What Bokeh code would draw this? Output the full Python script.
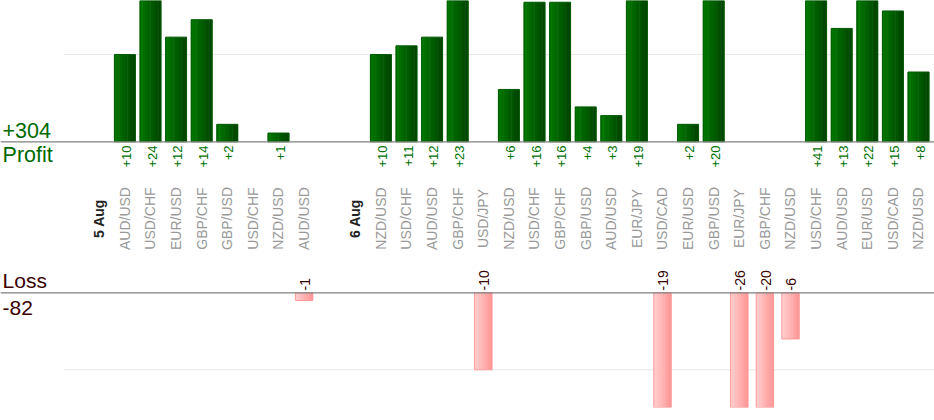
import math
from bokeh.plotting import figure
from bokeh.models import Range1d, Span, ColumnDataSource
from bokeh.transform import dodge
from bokeh.core.properties import value
from bokeh.embed import file_html
from bokeh.resources import INLINE

# ---------------- data ----------------
day_labels = ["5 Aug", "6 Aug"]

day1_pairs = ["AUD/USD", "USD/CHF", "EUR/USD", "GBP/CHF", "GBP/USD", "USD/CHF",
              "NZD/USD", "AUD/USD"]
day1_pips = [10, 24, 12, 14, 2, 0, 1, -1]

day2_pairs = ["NZD/USD", "USD/CHF", "AUD/USD", "GBP/CHF", "USD/JPY", "NZD/USD",
              "USD/CHF", "GBP/CHF", "GBP/USD", "AUD/USD", "EUR/JPY", "USD/CAD",
              "EUR/USD", "GBP/USD", "EUR/JPY", "GBP/CHF", "NZD/USD", "USD/CHF",
              "AUD/USD", "EUR/USD", "USD/CAD", "NZD/USD"]
day2_pips = [10, 11, 12, 23, -10, 6, 16, 16, 4, 3, 19, -19, 2, 20, -26, -20,
             -6, 41, 13, 22, 15, 8]

profit_grid = [10]
loss_grid = [-10]

# ---------------- slot layout ----------------
date_x, date_txt = [], []
pair_x, pair_txt, pair_pip = [], [], []
idx = 0
for day, pairs, pips in zip(day_labels, [day1_pairs, day2_pairs], [day1_pips, day2_pips]):
    date_x.append(idx)
    date_txt.append(day)
    idx += 1
    for pr, pp in zip(pairs, pips):
        pair_x.append(idx)
        pair_txt.append(pr)
        pair_pip.append(pp)
        idx += 1
    idx += 1  # blank slot between days

pos_x = [x for x, v in zip(pair_x, pair_pip) if v > 0]
pos_v = [v for v in pair_pip if v > 0]
neg_x = [x for x, v in zip(pair_x, pair_pip) if v < 0]
neg_v = [v for v in pair_pip if v < 0]

total_profit = sum(pos_v)
total_loss = sum(neg_v)

# ---------------- figure ----------------
X0, X1 = -3.859, 32.625
p = figure(width=934, height=420,
           x_range=Range1d(X0, X1), y_range=Range1d(-30.47, 16.2),
           output_backend="svg", toolbar_location=None,
           x_axis_location=None, y_axis_location=None,
           min_border_left=0, min_border_right=0, min_border_top=0,
           min_border_bottom=13, outline_line_color=None)
p.extra_y_ranges = {"loss": Range1d(-14.9, 37.96)}
p.grid.visible = False

FONT = value("Liberation Sans")

# grid lines
grid_x0 = -1.4
p.segment(x0=[grid_x0] * len(profit_grid), x1=[X1] * len(profit_grid),
          y0=profit_grid, y1=profit_grid, line_color="#e8e8e8", line_width=1)
p.segment(x0=[grid_x0] * len(loss_grid), x1=[X1] * len(loss_grid),
          y0=loss_grid, y1=loss_grid, line_color="#e8e8e8", line_width=1,
          y_range_name="loss")

psrc = ColumnDataSource(dict(x=pos_x, top=pos_v))
nsrc = ColumnDataSource(dict(x=neg_x, bottom=neg_v))

def lerp(c0, c1, t):
    return "#%02x%02x%02x" % tuple(int(round(a + (b - a) * t)) for a, b in zip(c0, c1))

# profit bars (horizontal gradient approximated with strips)
N = 8
PW = 0.82
for k in range(N):
    off = -PW / 2 + (k + 0.5) * PW / N
    col = lerp((0, 118, 0), (0, 70, 0), k / (N - 1))
    p.vbar(x=dodge("x", off, range=p.x_range), width=PW / N * 1.2, top="top",
           bottom=0, source=psrc, fill_color=col, line_color=None)
p.vbar(x="x", width=PW, top="top", bottom=0, source=psrc, fill_color=None,
       line_color="#005a00", line_width=1)

# loss bars
NW = 0.68
for k in range(N):
    off = -NW / 2 + (k + 0.5) * NW / N
    col = lerp((255, 204, 204), (255, 152, 152), k / (N - 1))
    p.vbar(x=dodge("x", off, range=p.x_range), width=NW / N * 1.2, top=0,
           bottom="bottom", source=nsrc, fill_color=col, line_color=None,
           y_range_name="loss")
p.vbar(x="x", width=NW, top=0, bottom="bottom", source=nsrc, fill_color=None,
       line_color="#ff9a9a", line_width=1, y_range_name="loss")

# baselines
p.add_layout(Span(location=0, dimension="width", line_color="#808080", line_width=1.2))
p.add_layout(Span(location=0, dimension="width", line_color="#808080", line_width=1.2,
                  y_range_name="loss"))

# value labels (rotated, reading upward)
p.text(x=[x + 0.06 for x in pos_x], y=[-0.42] * len(pos_x),
       text=["+%d" % v for v in pos_v],
       angle=math.pi / 2, text_align="right", text_baseline="middle",
       text_font=FONT, text_font_size="13px", text_color="#007000")
p.text(x=[x + 0.03 for x in neg_x], y=[0.3] * len(neg_x),
       text=["%d" % v for v in neg_v],
       angle=math.pi / 2, text_align="left", text_baseline="middle",
       text_font=FONT, text_font_size="14px", text_color="#3a0000",
       y_range_name="loss")

# category labels
cat_y = -8.8
p.text(x=pair_x, y=[cat_y] * len(pair_x), text=pair_txt, angle=math.pi / 2,
       text_align="center", text_baseline="middle", text_font=FONT,
       text_font_size="14px", text_color="#999999")
p.text(x=date_x, y=[cat_y] * len(date_x), text=date_txt, angle=math.pi / 2,
       text_align="center", text_baseline="middle", text_font=FONT,
       text_font_size="14px", text_font_style="bold", text_color="#222222")

# totals on the left
lx = X0 + 0.08
p.text(x=[lx, lx], y=[1.33, -1.57], text=["+%d" % total_profit, "Profit"],
       text_align="left", text_baseline="middle", text_font=FONT,
       text_font_size="21.5px", text_color="#006a00")
p.text(x=[lx, lx], y=[1.56, -1.97], text=["Loss", "%d" % total_loss],
       text_align="left", text_baseline="middle", text_font=FONT,
       text_font_size="21px", text_color="#3a0000", y_range_name="loss")

open("out.html", "w").write(file_html(p, INLINE))
